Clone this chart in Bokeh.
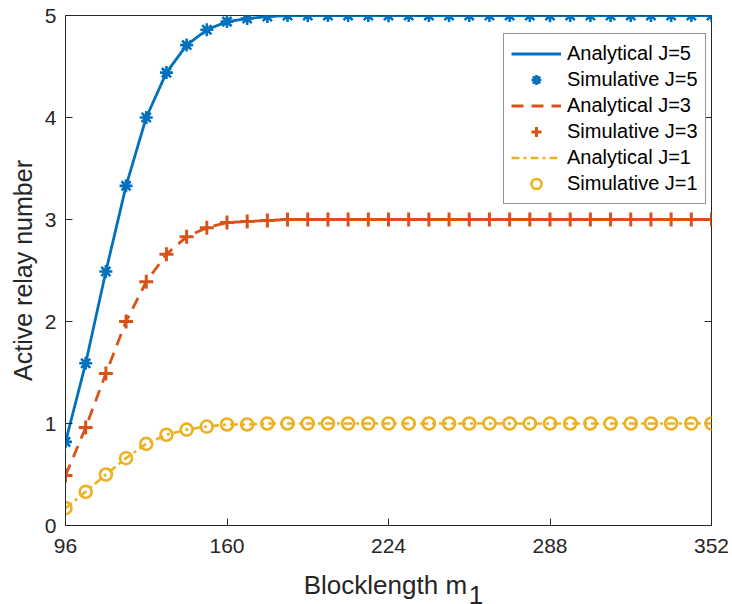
from bokeh.plotting import figure
from bokeh.layouts import column
from bokeh.models import Range1d, FixedTicker, Legend, LegendItem
from bokeh.core.properties import value
from bokeh.embed import file_html
from bokeh.resources import INLINE

# ---- data ----
blocklength = [96, 104, 112, 120, 128, 136, 144, 152, 160, 168, 176, 184, 192, 200, 208, 216,
               224, 232, 240, 248, 256, 264, 272, 280, 288, 296, 304, 312, 320, 328, 336, 344, 352]
j5 = [0.82, 1.59, 2.49, 3.33, 4.00, 4.44, 4.71, 4.86, 4.94, 4.97, 4.99, 5.0, 5.0, 5.0, 5.0, 5.0,
      5.0, 5.0, 5.0, 5.0, 5.0, 5.0, 5.0, 5.0, 5.0, 5.0, 5.0, 5.0, 5.0, 5.0, 5.0, 5.0, 5.0]
j3 = [0.49, 0.96, 1.49, 2.00, 2.39, 2.66, 2.83, 2.92, 2.97, 2.98, 2.99, 3.0, 3.0, 3.0, 3.0, 3.0,
      3.0, 3.0, 3.0, 3.0, 3.0, 3.0, 3.0, 3.0, 3.0, 3.0, 3.0, 3.0, 3.0, 3.0, 3.0, 3.0, 3.0]
j1 = [0.17, 0.33, 0.50, 0.66, 0.80, 0.89, 0.94, 0.97, 0.99, 0.99, 1.0, 1.0, 1.0, 1.0, 1.0, 1.0,
      1.0, 1.0, 1.0, 1.0, 1.0, 1.0, 1.0, 1.0, 1.0, 1.0, 1.0, 1.0, 1.0, 1.0, 1.0, 1.0, 1.0]
x_ticks = [96, 160, 224, 288, 352]
y_ticks = [0, 1, 2, 3, 4, 5]
legend_labels = ["Analytical J=5", "Simulative J=5", "Analytical J=3",
                 "Simulative J=3", "Analytical J=1", "Simulative J=1"]
x_label_main = "Blocklength m"
x_label_sub = "1"
y_label = "Active relay number"

BLUE = "#0072BD"
RED = "#D95319"
YEL = "#EDB120"
AX = "#262626"
FONT = "Liberation Sans"

X0, X1, Y0, Y1 = 96, 352, 0, 5
FRAME_W, FRAME_H = 646, 510
TICK_PX = 7
MAIN_H, LABEL_H, W = 570, 34, 732

p = figure(width=W, height=MAIN_H, output_backend="svg", toolbar_location=None,
           x_range=Range1d(X0, X1), y_range=Range1d(Y0, Y1),
           min_border_left=65, min_border_right=21, min_border_top=15, min_border_bottom=45,
           background_fill_color="white", border_fill_color="white")
p.xgrid.visible = False
p.ygrid.visible = False
p.outline_line_color = AX
p.outline_line_width = 1

for ax in (p.xaxis[0], p.yaxis[0]):
    ax.axis_line_color = AX
    ax.major_tick_line_color = AX
    ax.major_tick_in = TICK_PX
    ax.major_tick_out = 0
    ax.minor_tick_line_color = None
    ax.major_label_text_font = FONT
    ax.major_label_text_font_size = "21px"
    ax.major_label_text_color = AX
    ax.axis_label_text_font = FONT
    ax.axis_label_text_font_size = "25px"
    ax.axis_label_text_font_style = "normal"
    ax.axis_label_text_color = AX

p.xaxis[0].ticker = FixedTicker(ticks=x_ticks)
p.yaxis[0].ticker = FixedTicker(ticks=y_ticks)
p.xaxis[0].major_label_standoff = 13
p.yaxis[0].major_label_standoff = 9
p.yaxis[0].axis_label = y_label
p.yaxis[0].axis_label_standoff = 5

# ticks on the top and right edges of the box (inward)
dy = TICK_PX * (Y1 - Y0) / FRAME_H
dx = TICK_PX * (X1 - X0) / FRAME_W
p.segment(x0=x_ticks, y0=[Y1] * len(x_ticks), x1=x_ticks, y1=[Y1 - dy] * len(x_ticks),
          line_color=AX, line_width=1)
p.segment(x0=[X1] * len(y_ticks), y0=y_ticks, x1=[X1 - dx] * len(y_ticks), y1=y_ticks,
          line_color=AX, line_width=1)

# series
r5l = p.line(blocklength, j5, line_color=BLUE, line_width=2.8)
r5m = p.scatter(blocklength, j5, marker="asterisk", size=13, line_color=BLUE, line_width=2.6)
r3l = p.line(blocklength, j3, line_color=RED, line_width=2.8, line_dash="12 8")
r3m = p.scatter(blocklength, j3, marker="cross", size=14, line_color=RED, line_width=3)
r1l = p.line(blocklength, j1, line_color=YEL, line_width=2.6, line_dash="8 4 3 4")
r1m = p.scatter(blocklength, j1, marker="circle", size=12, line_color=YEL, line_width=2.6,
                fill_color=None)

items = [LegendItem(label=l, renderers=[r]) for l, r in
         zip(legend_labels, [r5l, r5m, r3l, r3m, r1l, r1m])]
legend = Legend(items=items, location=(438, 321),
                label_text_font=FONT, label_text_font_size="20px", label_text_color="black",
                glyph_width=50, glyph_height=25, spacing=1, padding=7, label_standoff=6,
                border_line_color=AX, border_line_width=1, background_fill_alpha=1.0,
                margin=0)
p.add_layout(legend, "center")

# x-axis label strip (pixel space) with subscript
q = figure(width=W, height=LABEL_H, output_backend="svg", toolbar_location=None,
           title=None, x_range=Range1d(0, W), y_range=Range1d(0, LABEL_H),
           min_border=0, min_border_left=0, min_border_right=0,
           min_border_top=0, min_border_bottom=0,
           x_axis_location=None, y_axis_location=None,
           background_fill_color="white", border_fill_color="white")
q.outline_line_color = None
q.xgrid.visible = False
q.ygrid.visible = False
q.text(x=[455], y=[20], text=[x_label_main], text_align="right",
       text_baseline="alphabetic", text_font=value(FONT), text_font_size="26px",
       text_color=AX)
q.text(x=[457], y=[9.5], text=[x_label_sub], text_align="left",
       text_baseline="alphabetic", text_font=value(FONT), text_font_size="26px",
       text_color=AX)

layout = column(p, q, spacing=0)
open("out.html", "w").write(file_html(layout, INLINE))
